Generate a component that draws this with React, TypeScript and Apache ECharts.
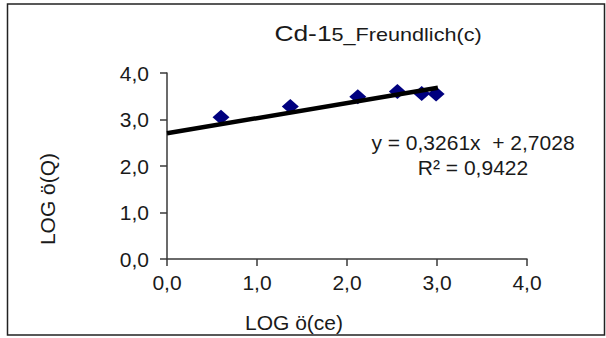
import React, { useEffect, useRef } from "react";
import * as echarts from "echarts";

const pointsX = [0.6, 1.37, 2.12, 2.56, 2.83, 2.99];
const pointsY = [3.05, 3.28, 3.49, 3.6, 3.56, 3.55];
const slope = 0.3261;
const intercept = 2.7028;
const rSquared = 0.9422;
const trendX = [0, 3.01];
const axisTicks = [0, 1, 2, 3, 4];
const xTitle = "LOG ö(ce)";
const yTitle = "LOG ö(Q)";

const fmt = (v: number) => v.toFixed(1).replace(".", ",");

export default function App() {
  const ref = useRef<HTMLDivElement>(null);
  useEffect(() => {
    if (!ref.current) return;
    const chart = echarts.init(ref.current, null, { renderer: "svg" });
    const font = "'Liberation Sans', Arial, sans-serif";
    const txt = "#1a1a1a";
    const axisCommon = {
      type: "value",
      min: axisTicks[0],
      max: axisTicks[axisTicks.length - 1],
      interval: 1,
      splitLine: { show: false },
      axisLine: { show: true, lineStyle: { color: "#3a3a3a", width: 1.5 } },
      axisTick: { show: true, inside: false, length: 7, lineStyle: { color: "#3a3a3a", width: 1.5 } },
      axisLabel: { formatter: fmt, color: txt, fontSize: 21, fontFamily: font },
    };
    chart.setOption({
      animation: false,
      backgroundColor: "#fff",
      grid: { left: 167, right: 79, top: 73, bottom: 79 },
      xAxis: {
        ...axisCommon,
        axisLabel: { ...axisCommon.axisLabel, margin: 13 },
      },
      yAxis: {
        ...axisCommon,
        axisLabel: { ...axisCommon.axisLabel, margin: 18 },
      },
      graphic: [
        {
          type: "rect",
          shape: { x: 7.5, y: 4, width: 597, height: 331 },
          style: { fill: "none", stroke: "#222", lineWidth: 1.5 },
          z: 100,
        },
        {
          type: "text",
          x: 378,
          y: 33,
          scaleX: 1.2,
          style: {
            text: "{a|Cd-1}{b|5_Freundlich(c)}",
            align: "center",
            verticalAlign: "middle",
            rich: {
              a: { fontSize: 22, fontFamily: font, fill: txt },
              b: { fontSize: 18, fontFamily: font, fill: txt, padding: [3, 0, 0, 0] },
            },
          },
        },
        {
          type: "text",
          x: 294,
          y: 322,
          style: {
            text: xTitle,
            align: "center",
            verticalAlign: "middle",
            fontSize: 21,
            fontFamily: font,
            fill: txt,
          },
        },
        {
          type: "text",
          x: 47,
          y: 199,
          rotation: Math.PI / 2,
          style: {
            text: yTitle,
            align: "center",
            verticalAlign: "middle",
            fontSize: 21,
            fontFamily: font,
            fill: txt,
          },
        },
        {
          type: "text",
          x: 473,
          y: 142,
          style: {
            text: `y = ${slope.toFixed(4).replace(".", ",")}x  + ${intercept.toFixed(4).replace(".", ",")}`,
            align: "center",
            verticalAlign: "middle",
            fontSize: 21,
            fontFamily: font,
            fill: txt,
          },
        },
        {
          type: "text",
          x: 473,
          y: 167,
          style: {
            text: `R² = ${rSquared.toFixed(4).replace(".", ",")}`,
            align: "center",
            verticalAlign: "middle",
            fontSize: 21,
            fontFamily: font,
            fill: txt,
          },
        },
      ],
      series: [
        {
          type: "line",
          data: trendX.map((x) => [x, intercept + slope * x]),
          symbol: "none",
          lineStyle: { color: "#000", width: 4.5 },
          z: 3,
        },
        {
          type: "scatter",
          data: pointsX.map((x, i) => [x, pointsY[i]]),
          symbol: "diamond",
          symbolSize: [17, 15],
          itemStyle: { color: "#00007f", opacity: 1 },
          z: 2,
        },
      ],
    });
    return () => chart.dispose();
  }, []);
  return (
    <div
      ref={ref}
      style={{ position: "absolute", left: 0, top: 0, width: 606, height: 338 }}
    />
  );
}
